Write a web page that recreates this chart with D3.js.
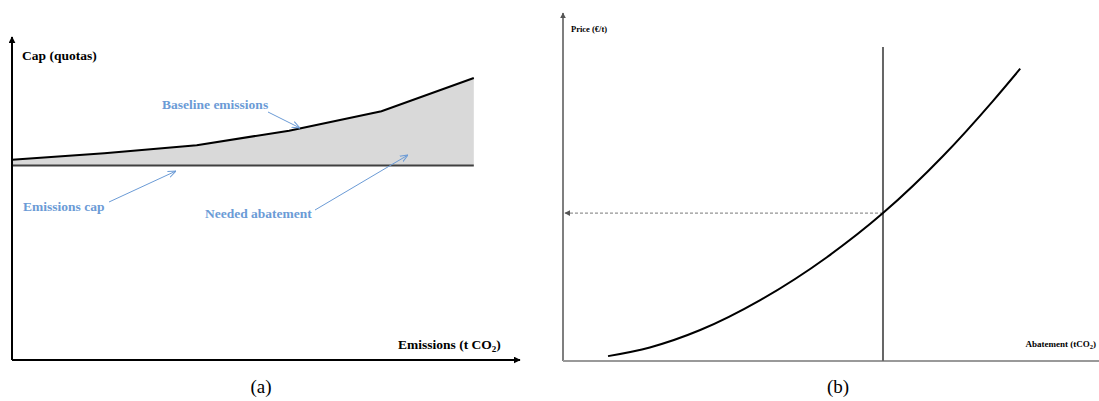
<!DOCTYPE html>
<html>
<head>
<meta charset="utf-8">
<script src="https://cdn.jsdelivr.net/npm/d3@7"></script>
<style>
  body { margin: 0; background: #fff; }
  text { font-family: "Liberation Serif", "Times New Roman", serif; }
</style>
</head>
<body>
<div id="chart"></div>
<script>
// panel (a): emissions trading, baseline vs cap
const periods = [0, 1, 2, 3, 4, 5];
const baseline = [62, 64, 66.5, 71, 77, 87.3];
const capLevel = 60.2;

// panel (b): marginal abatement cost curve
const abatement = [8.4, 16.2, 25.6, 36.8, 49.3, 59.7, 70.9, 80.2, 85.3];
const price = [1.4, 3.9, 8.9, 17.5, 29.9, 42.5, 58.9, 74.7, 84.0];
const targetAbatement = 59.7;
const carbonPrice = 42.5;

const blue = "#6b9bd6";

let svg = d3.select("#chart").append("svg")
  .attr("width", 1099).attr("height", 401);

let defs = svg.append("defs");
function marker(id, color, size) {
  defs.append("marker")
    .attr("id", id)
    .attr("viewBox", "0 0 10 10")
    .attr("refX", 9).attr("refY", 5)
    .attr("markerWidth", size).attr("markerHeight", size)
    .attr("markerUnits", "userSpaceOnUse")
    .attr("orient", "auto")
    .append("path").attr("d", "M0,0 L10,5 L0,10 z").attr("fill", color);
}
marker("arrBlack", "#000", 7);
marker("arrGray", "#555", 6);
function openMarker(id, color) {
  defs.append("marker")
    .attr("id", id)
    .attr("viewBox", "0 0 10 10")
    .attr("refX", 10).attr("refY", 5)
    .attr("markerWidth", 8).attr("markerHeight", 8)
    .attr("markerUnits", "userSpaceOnUse")
    .attr("orient", "auto")
    .append("path").attr("d", "M0,1 L10,5 L0,9")
    .attr("fill", "none").attr("stroke", color).attr("stroke-width", 1.3);
}
openMarker("arrBlue", blue);

/* ---------- panel (a) ---------- */
let xA = d3.scaleLinear().domain([0, 5.5]).range([12, 520]);
let yA = d3.scaleLinear().domain([0, 100]).range([360, 37]);

let gA = svg.append("g");

let area = d3.area()
  .x((d, i) => xA(periods[i]))
  .y0(yA(capLevel))
  .y1(d => yA(d));
gA.append("path")
  .attr("d", area(baseline))
  .attr("fill", "#d9d9d9");

gA.append("line")
  .attr("x1", xA(0)).attr("x2", xA(5))
  .attr("y1", yA(capLevel)).attr("y2", yA(capLevel))
  .attr("stroke", "#404040").attr("stroke-width", 2);

let lineA = d3.line()
  .x((d, i) => xA(periods[i]))
  .y(d => yA(d));
gA.append("path")
  .attr("d", lineA(baseline))
  .attr("fill", "none").attr("stroke", "#000").attr("stroke-width", 2);

// axes
gA.append("line")
  .attr("x1", xA(0)).attr("y1", yA(0)).attr("x2", xA(0)).attr("y2", yA(100))
  .attr("stroke", "#000").attr("stroke-width", 2)
  .attr("marker-end", "url(#arrBlack)");
gA.append("line")
  .attr("x1", xA(0)).attr("y1", yA(0)).attr("x2", xA(5.5)).attr("y2", yA(0))
  .attr("stroke", "#000").attr("stroke-width", 2)
  .attr("marker-end", "url(#arrBlack)");

gA.append("text").attr("x", 22).attr("y", 60)
  .attr("font-size", 13.5).attr("font-weight", "bold").text("Cap (quotas)");

let xt = gA.append("text").attr("x", 398).attr("y", 349)
  .attr("font-size", 13.5).attr("font-weight", "bold");
xt.append("tspan").text("Emissions (t CO");
xt.append("tspan").attr("font-size", 9).attr("dy", 3).text("2");
xt.append("tspan").attr("dy", -3).text(")");

// annotations
const notes = [
  { text: "Baseline emissions", x: 162, y: 109, from: [268, 112], to: [300, 128] },
  { text: "Emissions cap", x: 23, y: 211, from: [109, 202], to: [176, 171] },
  { text: "Needed abatement", x: 205, y: 218, from: [315, 210], to: [408, 155] }
];
notes.forEach(n => {
  gA.append("text").attr("x", n.x).attr("y", n.y)
    .attr("font-size", 13.5).attr("font-weight", "bold")
    .attr("fill", blue).text(n.text);
  gA.append("line")
    .attr("x1", n.from[0]).attr("y1", n.from[1])
    .attr("x2", n.to[0]).attr("y2", n.to[1])
    .attr("stroke", blue).attr("stroke-width", 1)
    .attr("marker-end", "url(#arrBlue)");
});

svg.append("text").attr("x", 261).attr("y", 393)
  .attr("text-anchor", "middle").attr("font-size", 19)
  .attr("font-family", "DejaVu Serif").text("(a)");

/* ---------- panel (b) ---------- */
let xB = d3.scaleLinear().domain([0, 100]).range([563, 1099]);
let yB = d3.scaleLinear().domain([0, 100]).range([361, 13]);

let gB = svg.append("g");

gB.append("line")
  .attr("x1", xB(0)).attr("y1", yB(0)).attr("x2", xB(0)).attr("y2", yB(100))
  .attr("stroke", "#555").attr("stroke-width", 1.5)
  .attr("marker-end", "url(#arrGray)");
gB.append("line")
  .attr("x1", xB(0)).attr("y1", yB(0)).attr("x2", xB(100)).attr("y2", yB(0))
  .attr("stroke", "#999").attr("stroke-width", 2);

gB.append("line")
  .attr("x1", xB(targetAbatement)).attr("x2", xB(targetAbatement))
  .attr("y1", yB(0)).attr("y2", 47)
  .attr("stroke", "#666").attr("stroke-width", 2);

gB.append("line")
  .attr("x1", xB(targetAbatement)).attr("x2", xB(0) + 2)
  .attr("y1", yB(carbonPrice)).attr("y2", yB(carbonPrice))
  .attr("stroke", "#777").attr("stroke-width", 1)
  .attr("stroke-dasharray", "3,2")
  .attr("marker-end", "url(#arrGray)");

let curve = d3.line()
  .x((d, i) => xB(abatement[i]))
  .y(d => yB(d))
  .curve(d3.curveMonotoneX);
gB.append("path")
  .attr("d", curve(price))
  .attr("fill", "none").attr("stroke", "#000").attr("stroke-width", 2);

gB.append("text").attr("x", 571).attr("y", 32)
  .attr("font-size", 8.5).attr("font-weight", "bold").text("Price (€/t)");

let at = gB.append("text").attr("x", 1096).attr("y", 347)
  .attr("text-anchor", "end")
  .attr("font-size", 9).attr("font-weight", "bold");
at.append("tspan").text("Abatement (tCO");
at.append("tspan").attr("font-size", 6.5).attr("dy", 2).text("2");
at.append("tspan").attr("dy", -2).text(")");

svg.append("text").attr("x", 838).attr("y", 393)
  .attr("text-anchor", "middle").attr("font-size", 19)
  .attr("font-family", "DejaVu Serif").text("(b)");
</script>
</body>
</html>
